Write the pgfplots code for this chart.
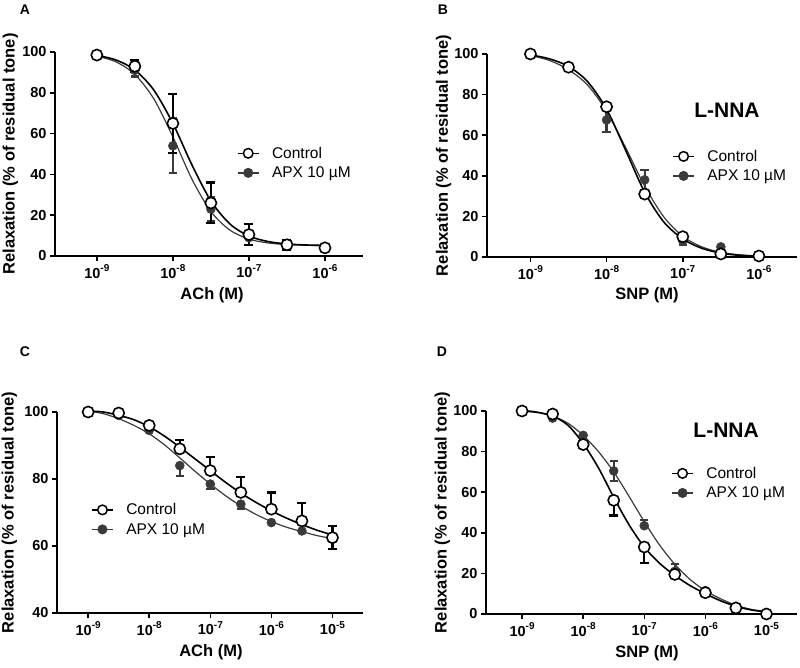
\documentclass[border=0pt]{standalone}
\usepackage{fontspec}
\setmainfont{Liberation Sans}
\usepackage{pgfplots}
\pgfplotsset{compat=1.18}
\definecolor{apx}{RGB}{58,58,58}
\newcommand{\tl}[1]{{\bfseries\fontsize{14.5}{16}\selectfont 10\raisebox{0.45em}{\fontsize{10}{11}\selectfont -#1}}}
\pgfplotsset{
 prism/.style={
  scale only axis,
  axis x line=bottom, axis y line=left,
  x axis line style={-, line width=1.5pt},
  y axis line style={-, line width=1.5pt},
  tick style={black, line width=1.5pt},
  major tick length=5pt,
  tick align=outside,
  xtick={-9,-8,-7,-6},
  xticklabels={\tl{9},\tl{8},\tl{7},\tl{6}},
  yticklabel={{\bfseries\fontsize{14.5}{16}\selectfont\pgfmathprintnumber[assume math mode=true]{\tick}}},
  label style={font=\bfseries\fontsize{16.5}{19}\selectfont},
  ylabel={Relaxation (\% of residual tone)},
  clip=false,
  legend style={draw=none, fill=none, font=\fontsize{15.5}{18}\selectfont, anchor=west, legend cell align=left, row sep=4pt, inner sep=0pt,
     nodes={inner sep=1.5pt}, /tikz/every odd column/.append style={column sep=11pt}},
  legend image code/.code={\draw[mark repeat=2,mark phase=2,##1] plot coordinates {(0pt,0pt) (10.5pt,0pt) (21pt,0pt)};},
 },
 ctrlcurve/.style={black, line width=1.6pt, smooth, no marks, forget plot},
 apxcurve/.style={apx, line width=1.2pt, smooth, no marks, forget plot},
 ctrlmk/.style={only marks, mark=*, mark size=5.6pt, mark options={fill=white, draw=black, line width=1.6pt}, forget plot},
 apxmk/.style={only marks, mark=*, mark size=4.5pt, mark options={fill=apx, draw=apx, line width=0.5pt}, forget plot},
 ctrlpts/.style={ctrlmk, error bars/y dir=both, error bars/y explicit, error bars/error bar style={black, line width=2.2pt}, error bars/error mark options={black, line width=2.2pt, mark size=4.5pt, rotate=90}},
 apxpts/.style={apxmk, error bars/y dir=both, error bars/y explicit, error bars/error bar style={apx, line width=2.2pt}, error bars/error mark options={apx, line width=2.2pt, mark size=4.2pt, rotate=90}},
 ctrlleg/.style={black, line width=1.6pt, mark=*, mark size=4.8pt, mark options={fill=white, draw=black, line width=1.5pt}},
 apxleg/.style={apx, line width=1.6pt, mark=*, mark size=4.2pt, mark options={fill=apx, draw=apx}},
}
\begin{document}
\begin{tikzpicture}
\useasboundingbox (0pt,0pt) rectangle (800pt,667pt);
\node[font=\bfseries\fontsize{14}{16}\selectfont] at (25pt,657pt) {A};
\node[font=\bfseries\fontsize{14}{16}\selectfont] at (443pt,657pt) {B};
\node[font=\bfseries\fontsize{14}{16}\selectfont] at (25pt,315pt) {C};
\node[font=\bfseries\fontsize{14}{16}\selectfont] at (442pt,315pt) {D};

% ---------------- A
\begin{axis}[prism, at={(55pt,411pt)}, anchor=south west, width=308pt, height=204pt,
  xmin=-9.55, xmax=-5.5, ymin=0, ymax=100, ytick={0,20,...,100},
  xlabel={ACh (M)},
  xlabel style={at={(axis description cs:0.51,-0.19)}, anchor=center},
  ylabel style={at={(axis description cs:-0.145,0.5)}, anchor=center},
  legend style={at={(axis description cs:0.59,0.456)}}]
\addplot[apxcurve] coordinates {(-9,98.0)(-8.75,95.2)(-8.5,89.0)(-8.25,77.0)(-8,58.4)(-7.75,37.7)(-7.5,21.8)(-7.25,12.7)(-7,8.3)(-6.75,6.4)(-6.5,5.6)(-6.25,5.25)(-6,5.1)};
\addplot[ctrlcurve] coordinates {(-9,98.4)(-8.75,96.1)(-8.5,91.2)(-8.25,81.3)(-8,65.0)(-7.75,44.7)(-7.5,27.0)(-7.25,15.7)(-7,9.8)(-6.75,7.1)(-6.5,5.9)(-6.25,5.4)(-6,5.2)};
\addplot[apxpts] coordinates {(-8.5,91) +- (0,3) (-8,54) +- (0,13.5) (-7.5,23) +- (0,6)};
\addplot[apxmk] coordinates {(-9,99)(-7,9)(-6.5,5)(-6,4)};
\addplot[ctrlpts] coordinates {(-8.5,93) +- (0,3) (-8,65) +- (0,14.5) (-7.5,26) +- (0,10) (-7,10.5) +- (0,5) (-6.5,5.5) +- (0,2.5)};
\addplot[ctrlmk] coordinates {(-9,98.5)(-6,4)};
\addlegendimage{ctrlleg}\addlegendentry{Control}
\addlegendimage{apxleg}\addlegendentry{APX 10 \textmu M}
\end{axis}

% ---------------- B
\begin{axis}[prism, at={(487pt,410pt)}, anchor=south west, width=310pt, height=203pt,
  xmin=-9.57, xmax=-5.5, ymin=0, ymax=100, ytick={0,20,...,100},
  xlabel={SNP (M)},
  xlabel style={at={(axis description cs:0.516,-0.187)}, anchor=center},
  ylabel style={at={(axis description cs:-0.14,0.5)}, anchor=center},
  legend style={at={(axis description cs:0.597,0.448)}}]
\addplot[apxcurve] coordinates {(-9,99.3)(-8.75,96.8)(-8.5,92.3)(-8.25,84.7)(-8,71.8)(-7.75,53.9)(-7.5,34.9)(-7.25,19.8)(-7,10.2)(-6.75,5.0)(-6.5,2.3)(-6.25,1.1)(-6,0.5)};
\addplot[ctrlcurve] coordinates {(-9,99.6)(-8.75,97.6)(-8.5,93.9)(-8.25,86.4)(-8,72.8)(-7.75,52.6)(-7.5,31.9)(-7.25,17.3)(-7,8.9)(-6.75,4.3)(-6.5,1.9)(-6.25,0.8)(-6,0.3)};
\addplot[apxpts] coordinates {(-8,67.5) +- (0,6) (-7.5,38) +- (0,5) (-7,8) +- (0,2)};
\addplot[apxmk] coordinates {(-9,100)(-8.5,93)(-6.5,5)(-6,1)};
\addplot[ctrlpts] coordinates {(-7.5,31) +- (0,2)};
\addplot[ctrlmk] coordinates {(-9,100)(-8.5,93.5)(-8,74)(-7,10)(-6.5,1.5)(-6,0.5)};
\node[font=\bfseries\fontsize{21}{24}\selectfont] at (rel axis cs:0.774,0.724) {L-NNA};
\addlegendimage{ctrlleg}\addlegendentry{Control}
\addlegendimage{apxleg}\addlegendentry{APX 10 \textmu M}
\end{axis}

% ---------------- C
\begin{axis}[prism, at={(57pt,54pt)}, anchor=south west, width=306pt, height=201pt,
  xmin=-9.51, xmax=-4.5, ymin=40, ymax=100, ytick={40,60,...,100},
  xtick={-9,-8,-7,-6,-5},
  xticklabels={\tl{9},\tl{8},\tl{7},\tl{6},\tl{5}},
  xlabel={ACh (M)},
  xlabel style={at={(axis description cs:0.503,-0.194)}, anchor=center},
  ylabel style={at={(axis description cs:-0.156,0.5)}, anchor=center},
  legend style={at={(axis description cs:0.111,0.465)}}]
\addplot[apxcurve] coordinates {(-9,100.3)(-8.75,99.5)(-8.5,98)(-8.25,96)(-8,93.5)(-7.75,90.2)(-7.5,86.3)(-7.25,82.3)(-7,78.5)(-6.75,75)(-6.5,72)(-6.25,69.4)(-6,67.3)(-5.75,65.6)(-5.5,64.3)(-5.25,63.1)(-5,62.2)};
\addplot[ctrlcurve] coordinates {(-9,100.3)(-8.75,100)(-8.5,99)(-8.25,97.7)(-8,95.6)(-7.75,92.8)(-7.5,89.5)(-7.25,86)(-7,82.5)(-6.75,79)(-6.5,75.8)(-6.25,73)(-6,70.5)(-5.75,68.3)(-5.5,66.4)(-5.25,64.7)(-5,63.3)};
\addplot[apxpts] coordinates {(-7.5,84) += (0,0) -= (0,3) (-7,78.5) += (0,0) -= (0,1.4) (-6.5,72.5) += (0,0) -= (0,1.4)};
\addplot[apxmk] coordinates {(-9,100)(-8.5,99)(-8,94.5)(-6,67)(-5.5,64.5)(-5,62)};
\addplot[ctrlpts] coordinates {(-7.5,89) += (0,2.7) -= (0,0) (-7,82.5) += (0,4) -= (0,0) (-6.5,76) += (0,4.5) -= (0,0) (-6,71) += (0,5) -= (0,0) (-5.5,67.5) += (0,5.3) -= (0,0) (-5,62.5) +- (0,3.5)};
\addplot[ctrlmk] coordinates {(-9,100)(-8.5,99.7)(-8,96)};
\addlegendimage{ctrlleg}\addlegendentry{Control}
\addlegendimage{apxleg}\addlegendentry{APX 10 \textmu M}
\end{axis}

% ---------------- D
\begin{axis}[prism, at={(486pt,53pt)}, anchor=south west, width=311pt, height=203pt,
  xmin=-9.59, xmax=-4.5, ymin=0, ymax=100, ytick={0,20,...,100},
  xtick={-9,-8,-7,-6,-5},
  xticklabels={\tl{9},\tl{8},\tl{7},\tl{6},\tl{5}},
  xlabel={SNP (M)},
  xlabel style={at={(axis description cs:0.518,-0.192)}, anchor=center},
  ylabel style={at={(axis description cs:-0.14,0.5)}, anchor=center},
  legend style={at={(axis description cs:0.595,0.645)}}]
\addplot[apxcurve] coordinates {(-9,100.5)(-8.75,99.5)(-8.5,97.5)(-8.25,94)(-8,88)(-7.75,80)(-7.5,70)(-7.25,58)(-7,45.5)(-6.75,34)(-6.5,24.5)(-6.25,17)(-6,11.5)(-5.75,7.5)(-5.5,4.3)(-5.25,2.3)(-5,1.2)};
\addplot[ctrlcurve] coordinates {(-9,100)(-8.75,99.3)(-8.5,97.5)(-8.25,93)(-8,84)(-7.75,72)(-7.5,57.5)(-7.25,44)(-7,33)(-6.75,25)(-6.5,19)(-6.25,14)(-6,10)(-5.75,6.5)(-5.5,3.8)(-5.25,2)(-5,1)};
\addplot[apxpts] coordinates {(-7.5,70.5) +- (0,5) (-7,43.5) += (0,3) -= (0,0) (-6.5,21) += (0,3.5) -= (0,0)};
\addplot[apxmk] coordinates {(-8.5,96.5)(-8,88)(-6,11.5)(-5.5,3)(-5,0.5)};
\addplot[ctrlpts] coordinates {(-7.5,56) += (0,0) -= (0,7.5) (-7,33) += (0,0) -= (0,8)};
\addplot[ctrlmk] coordinates {(-9,100)(-8.5,98.5)(-8,83.5)(-6.5,19.5)(-6,10.5)(-5.5,3)(-5,0)};
\node[font=\bfseries\fontsize{21}{24}\selectfont] at (rel axis cs:0.772,0.906) {L-NNA};
\addlegendimage{ctrlleg}\addlegendentry{Control}
\addlegendimage{apxleg}\addlegendentry{APX 10 \textmu M}
\end{axis}
\end{tikzpicture}
\end{document}
